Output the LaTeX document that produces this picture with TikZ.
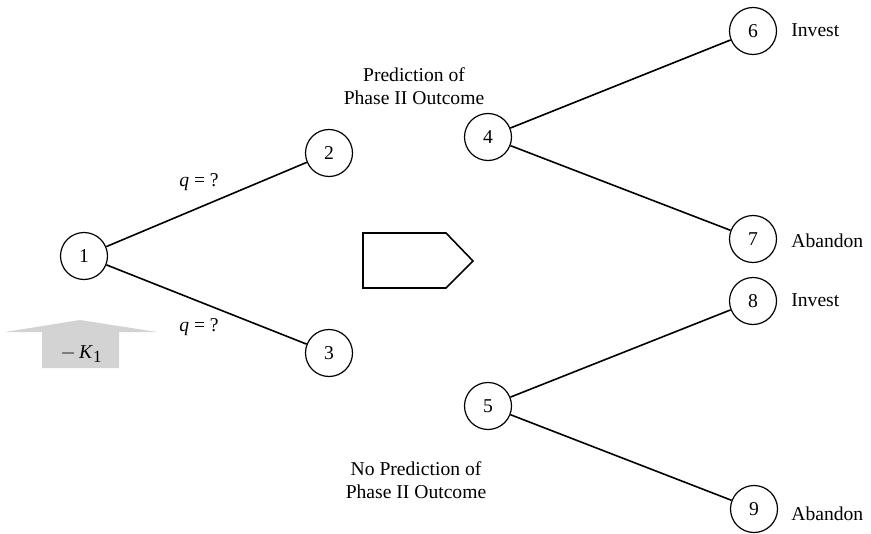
\documentclass[tikz,border=0pt]{standalone}
\usepackage{fontspec}
\setmainfont{Liberation Serif}
\usetikzlibrary{positioning}
\definecolor{arrowgray}{HTML}{D3D3D3}

\begin{document}
\begin{tikzpicture}[
  x=0.5pt, y=-0.5pt,
  font=\fontsize{9.8}{11.2}\selectfont,
  chance/.style={circle, draw, line width=0.6pt, minimum size=23.5pt, inner sep=0pt},
  branch/.style={draw, line width=0.8pt},
  tag/.style={anchor=west, inner sep=0pt},
  caption/.style={align=center, inner sep=0pt}
]
  \useasboundingbox (0,0) rectangle (871,534);

  \node[chance] (n1) at (84,256) {1};
  \node[chance] (n2) at (329,153) {2};
  \node[chance] (n3) at (329,353) {3};
  \node[chance] (n4) at (488,137) {4};
  \node[chance] (n5) at (488,406) {5};
  \node[chance] (n6) at (753,31) {6};
  \node[chance] (n7) at (753,239) {7};
  \node[chance] (n8) at (753,301) {8};
  \node[chance] (n9) at (754,509) {9};

  \draw[branch] (n1) -- (n2);
  \draw[branch] (n1) -- (n3);
  \draw[branch] (n4) -- (n6);
  \draw[branch] (n4) -- (n7);
  \draw[branch] (n5) -- (n8);
  \draw[branch] (n5) -- (n9);

  \node (q1) at (199,182) {\textit{q} = ?};
  \node (q2) at (199,327) {\textit{q} = ?};

  \node[caption] (pred) at (414,86) {Prediction of\\Phase II Outcome};
  \node[caption] (nopred) at (416,480) {No Prediction of\\Phase II Outcome};

  \node[tag] (t6) at (791,30) {Invest};
  \node[tag] (t7) at (791,241) {Abandon};
  \node[tag] (t8) at (791,300) {Invest};
  \node[tag] (t9) at (791,514) {Abandon};

  % pentagon pointer between the two trees
  \draw[line width=0.8pt] (363,233) -- (446,233) -- (473,261) -- (446,288) -- (363,288) -- cycle;

  % cost arrow
  \fill[arrowgray] (42,368) -- (42,332) -- (5,332) -- (80,320) -- (157,332) -- (119,332) -- (119,368) -- cycle;
  \node (cost) at (81,354) {$-$\,\textit{K}\raisebox{-0.45ex}{\fontsize{8.5}{9}\selectfont 1}};
\end{tikzpicture}
\end{document}
